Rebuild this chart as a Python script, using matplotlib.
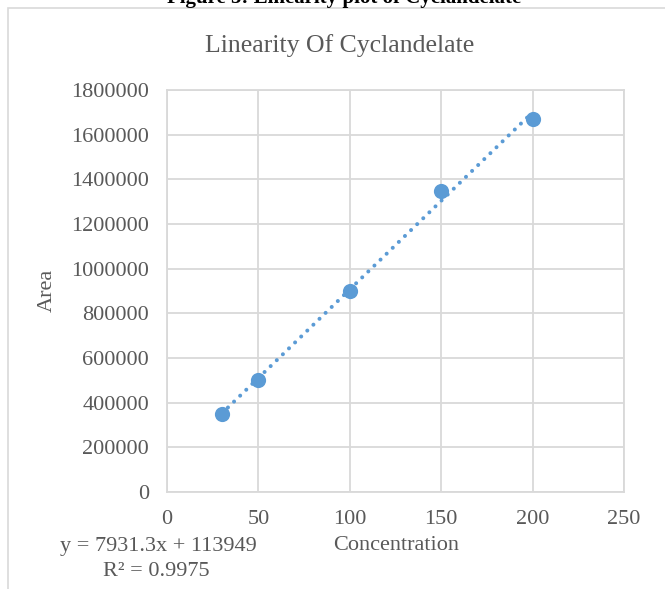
import numpy as np
import matplotlib
matplotlib.use("Agg")
import matplotlib.pyplot as plt
from matplotlib.patches import Rectangle

# data
concentration = [30, 50, 100, 150, 200]
area = [350000, 500000, 900000, 1350000, 1670000]
slope = 7931.3
intercept = 113949
r_squared = 0.9975

x_ticks = [0, 50, 100, 150, 200, 250]
y_ticks = [0, 200000, 400000, 600000, 800000, 1000000, 1200000, 1400000, 1600000, 1800000]

plt.rcParams['font.family'] = ['Liberation Serif', 'DejaVu Serif']
grey = '#595959'
blue = '#5B9BD5'

fig = plt.figure(figsize=(6.65, 5.89), dpi=100)
ax = fig.add_axes([167/665, 1-492/589, (624-167)/665, (492-90)/589])

# chart frame (cropped at right and bottom)
fig.patches.append(Rectangle((8/665, -0.2), 1.2, 1.2 - 8/589, transform=fig.transFigure,
                             fill=False, edgecolor='#D9D9D9', linewidth=1.2))

# dotted linear trendline
xs = np.array([min(concentration), max(concentration)])
ax.plot(xs, slope*xs + intercept, linestyle=(0, (0.01, 2.1)), color=blue, linewidth=2.9,
        dash_capstyle='round', zorder=2)
ax.scatter(concentration, area, s=120, color=blue, zorder=3, linewidths=0)

ax.set_xlim(0, 250)
ax.set_ylim(0, 1800000)
ax.set_xticks(x_ticks)
ax.set_yticks(y_ticks)
ax.set_yticklabels([str(v) for v in y_ticks])
ax.grid(True, color='#D9D9D9', linewidth=1.3)
ax.set_axisbelow(True)
for s in ax.spines.values():
    s.set_color('#D9D9D9')
    s.set_linewidth(1.3)
ax.tick_params(length=0, labelsize=16, colors=grey, pad=13)

fig.text(47/665, 1-290/589, 'Area', rotation=90, ha='center', va='center', fontsize=16, color=grey)
fig.text(396/665, 1-546/589, 'Concentration', ha='center', va='center', fontsize=16, color=grey)
fig.text(340/665, 1-46/589, 'Linearity Of Cyclandelate', ha='center', va='center',
         fontsize=18.5, color=grey)

fig.text(158/665, 1-546/589, f'y = {slope}x + {intercept}', ha='center', va='center',
         fontsize=16, color=grey)
fig.text(156/665, 1-571/589, f'R² = {r_squared}', ha='center', va='center',
         fontsize=16, color=grey)

fig.text(344/665, 1-3/589, 'Figure 5: Linearity plot of Cyclandelate', ha='center', va='baseline',
         fontsize=15, fontweight='bold', color='black')

fig.savefig('out.png', dpi=100)
